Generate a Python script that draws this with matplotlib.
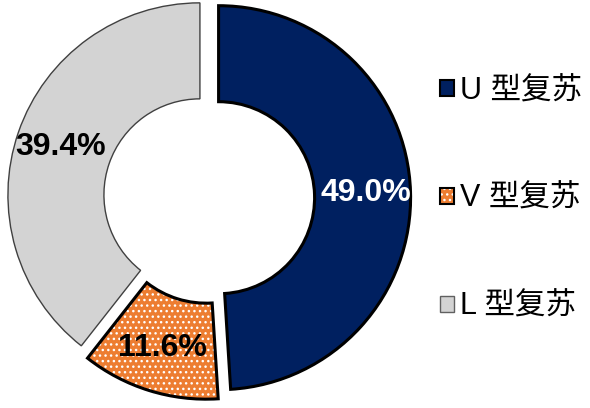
import matplotlib
matplotlib.use("Agg")
import matplotlib.pyplot as plt
from matplotlib.patches import Wedge, Patch
from matplotlib.legend_handler import HandlerTuple

labels = ["U 型复苏", "V 型复苏", "L 型复苏"]
values = [49.0, 11.6, 39.4]
colors = ["#002060", "#ED7D31", "#D3D3D3"]
edge_colors = ["black", "black", "#404040"]
edge_widths = [2.2, 2.2, 1.0]
pct_colors = ["white", "black", "black"]

plt.rcParams['font.family'] = ['Liberation Sans', 'Noto Sans CJK SC', 'DejaVu Sans']

fig = plt.figure(figsize=(5.9, 4.08), dpi=100)
R = 192
S = 2.2 * R
cx, cy = 209, 198
ax = fig.add_axes([(cx - S / 2) / 590, (408 - cy - S / 2) / 408, S / 590, S / 408])

wedges, texts, autotexts = ax.pie(
    values, colors=colors, startangle=90, counterclock=False,
    explode=[0.05, 0.05, 0.05], radius=1.0,
    wedgeprops=dict(width=0.5), autopct='%1.1f%%', pctdistance=0.77,
    textprops=dict(fontsize=23, fontweight='bold'))

for w, ec, lw in zip(wedges, edge_colors, edge_widths):
    w.set_edgecolor(ec)
    w.set_linewidth(lw)

# hatched V wedge: white dots on orange, black outline drawn on top
vw = wedges[1]
vw.set_edgecolor("white")
vw.set_linewidth(0)
vw.set_hatch("...")
outline = Wedge(vw.center, vw.r, vw.theta1, vw.theta2, width=vw.width,
                facecolor="none", edgecolor="black", linewidth=2.2)
ax.add_patch(outline)

for t, c in zip(autotexts, pct_colors):
    t.set_color(c)
    t.set_zorder(5)

ax.set_xlim(-1.1, 1.1)
ax.set_ylim(-1.1, 1.1)
ax.set_aspect('equal')

h_u = Patch(facecolor=colors[0], edgecolor="black", linewidth=1.5)
h_v = (Patch(facecolor=colors[1], edgecolor="white", linewidth=0, hatch="..."),
       Patch(facecolor="none", edgecolor="black", linewidth=1.5))
h_l = Patch(facecolor=colors[2], edgecolor="#606060", linewidth=1.0)

leg = fig.legend([h_u, h_v, h_l], labels, loc="center left",
                 bbox_to_anchor=(440 / 590, 1 - 199 / 408),
                 frameon=False, fontsize=22, labelspacing=2.55,
                 handlelength=0.45, handleheight=0.45, handletextpad=0.2,
                 borderpad=0, borderaxespad=0,
                 handler_map={tuple: HandlerTuple(ndivide=1, pad=0)})

fig.savefig("out.png", dpi=100)
